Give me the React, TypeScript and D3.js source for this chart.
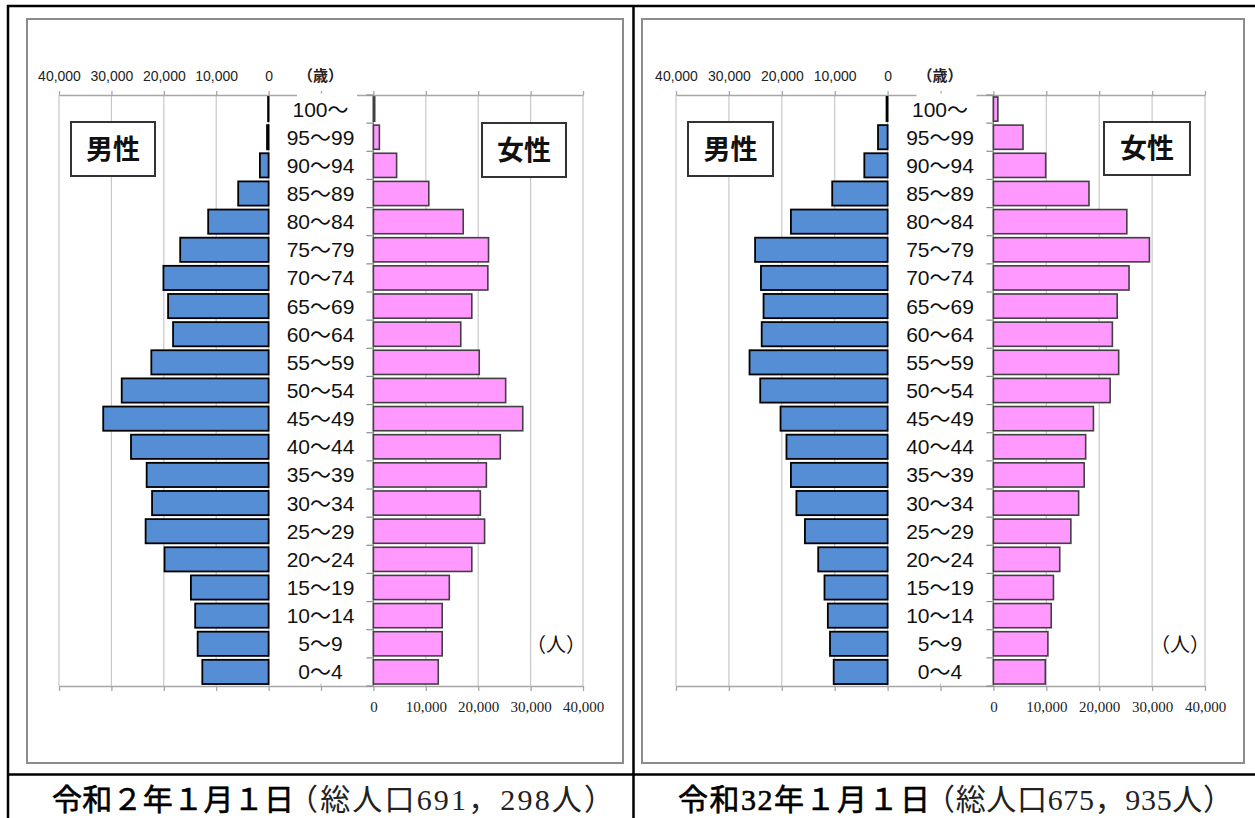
import React, { useEffect, useRef } from "react";
import * as d3 from "d3";

// age groups, top (oldest) to bottom
const ageGroups = [
  "100～", "95～99", "90～94", "85～89", "80～84", "75～79", "70～74",
  "65～69", "60～64", "55～59", "50～54", "45～49", "40～44", "35～39",
  "30～34", "25～29", "20～24", "15～19", "10～14", "5～9", "0～4",
];

// 令和2年 (2020)
const maleR2 = [
  100, 300, 1660, 5800, 11530, 16870, 20070, 19180, 18230, 22380, 28030,
  31560, 26260, 23270, 22240, 23470, 19860, 14830, 14010, 13540, 12650,
];
const femaleR2 = [
  250, 1140, 4430, 10570, 17140, 21970, 21840, 18780, 16670, 20200, 25240,
  28500, 24220, 21560, 20410, 21220, 18780, 14490, 13130, 13130, 12380,
];

// 令和32年 (2050)
const maleR32 = [
  200, 1810, 4400, 10470, 18280, 25050, 23940, 23450, 23800, 26100, 24080,
  20240, 19120, 18280, 17240, 15630, 13120, 11930, 11300, 10890, 10190,
];
const femaleR32 = [
  840, 5600, 9880, 18070, 25220, 29490, 25640, 23400, 22490, 23680, 22070,
  18910, 17440, 17160, 16110, 14640, 12540, 11350, 10930, 10300, 9810,
];

const maleTickLabels = ["40,000", "30,000", "20,000", "10,000", "0"];
const femaleTickLabels = ["0", "10,000", "20,000", "30,000", "40,000"];

const captionR2 = ["令和２年１月１日", "（総人口691，298人）"];
const captionR32 = ["令和32年１月１日", "（総人口675，935人）"];

const W = 1255;
const H = 818;

const panels = [
  {
    male: maleR2,
    female: femaleR2,
    caption: captionR2,
    frame: [27, 19, 623, 763],
    x0: 59,
    x1: 583,
    maleBox: [71, 122, 155, 176],
    femaleBox: [482, 123, 566, 177],
    unitX: 556,
    cap: [52, 242, 288, 326],
  },
  {
    male: maleR32,
    female: femaleR32,
    caption: captionR32,
    frame: [642, 19, 1244, 763],
    x0: 676,
    x1: 1205,
    maleBox: [688, 122, 773, 176],
    femaleBox: [1104, 122, 1190, 175],
    unitX: 1180,
    cap: [678, 252, 925, 308],
  },
];

const sans = "'Liberation Sans', 'Noto Sans CJK JP', sans-serif";
const serif = "'Liberation Serif', 'Noto Sans CJK JP', serif";
const cjk = "'Noto Sans CJK JP', sans-serif";

const App: React.FC = () => {
  const svgRef = useRef<SVGSVGElement | null>(null);

  useEffect(() => {
    if (!svgRef.current) return;
    const svg = d3.select(svgRef.current);
    svg.selectAll("*").remove();

    svg.append("rect").attr("width", W).attr("height", H).attr("fill", "#fff");

    const yTop = 95;
    const yBottom = 686;

    panels.forEach((p) => {
      const g = svg.append("g");

      // chart frame
      g.append("rect")
        .attr("x", p.frame[0])
        .attr("y", p.frame[1])
        .attr("width", p.frame[2] - p.frame[0])
        .attr("height", p.frame[3] - p.frame[1])
        .attr("fill", "#fff")
        .attr("stroke", "#8c8c8c")
        .attr("stroke-width", 2);

      // full width position scale: 0 = left 40,000, 100,000 = right 40,000
      const full = d3.scaleLinear().domain([0, 100000]).range([p.x0, p.x1]);
      const maleX = d3.scaleLinear().domain([40000, 0]).range([full(0), full(40000)]);
      const femaleX = d3.scaleLinear().domain([0, 40000]).range([full(60000), full(100000)]);
      const center = full(50000);
      const tickVals = d3.range(0, 100001, 10000);

      const y = d3
        .scaleBand()
        .domain(ageGroups)
        .range([yTop, yBottom])
        .paddingInner(0.14)
        .paddingOuter(0.07);

      // gridlines
      g.selectAll(".grid")
        .data(tickVals)
        .enter()
        .append("line")
        .attr("x1", (d) => full(d))
        .attr("x2", (d) => full(d))
        .attr("y1", yTop)
        .attr("y2", yBottom)
        .attr("stroke", "#c8c8c8")
        .attr("stroke-width", 1.2);

      // top axis (male)
      const topAxis = d3
        .axisTop(full)
        .tickValues(tickVals)
        .tickSize(4)
        .tickSizeOuter(0)
        .tickPadding(9)
        .tickFormat((_, i) => (i < 5 ? maleTickLabels[i] : ""));
      const ta = g.append("g").attr("transform", `translate(0,${yTop})`).call(topAxis);

      // bottom axis (female)
      const bottomAxis = d3
        .axisBottom(full)
        .tickValues(tickVals)
        .tickSize(5)
        .tickSizeOuter(0)
        .tickPadding(10)
        .tickFormat((_, i) => (i >= 6 ? femaleTickLabels[i - 6] : ""));
      const ba = g.append("g").attr("transform", `translate(0,${yBottom})`).call(bottomAxis);

      [ta, ba].forEach((a) => {
        a.select(".domain").attr("stroke", "#a6a6a6").attr("stroke-width", 1.3);
        a.selectAll(".tick line").attr("stroke", "#a6a6a6").attr("stroke-width", 1.3);
      });
      ta.selectAll("text")
        .attr("fill", "#222")
        .style("font-family", sans)
        .style("font-size", "14px")
        .attr("transform", "scale(1,1.1)");
      ba.selectAll("text")
        .attr("fill", "#222")
        .style("font-family", serif)
        .style("font-size", "15px");

      // white strip behind the age labels
      g.append("rect")
        .attr("x", center - 24)
        .attr("y", yTop - 1.5)
        .attr("width", 60)
        .attr("height", yBottom - yTop - 1)
        .attr("fill", "#fff");

      // female category axis
      g.append("line")
        .attr("x1", femaleX(0))
        .attr("x2", femaleX(0))
        .attr("y1", yTop)
        .attr("y2", yBottom)
        .attr("stroke", "#8c8c8c")
        .attr("stroke-width", 1.2);
      g.selectAll(".ctick")
        .data(d3.range(ageGroups.length + 1))
        .enter()
        .append("line")
        .attr("x1", femaleX(0) - 7)
        .attr("x2", femaleX(0))
        .attr("y1", (i) => yTop + i * y.step())
        .attr("y2", (i) => yTop + i * y.step())
        .attr("stroke", "#8c8c8c")
        .attr("stroke-width", 1.2);

      // male bars
      g.selectAll(".male")
        .data(p.male)
        .enter()
        .append("rect")
        .attr("x", (d) => maleX(d))
        .attr("y", (_, i) => y(ageGroups[i])!)
        .attr("width", (d) => maleX(0) - maleX(d))
        .attr("height", y.bandwidth())
        .attr("fill", "#558ED5")
        .attr("stroke", "#000")
        .attr("stroke-width", 1.8);

      // female bars
      g.selectAll(".female")
        .data(p.female)
        .enter()
        .append("rect")
        .attr("x", femaleX(0))
        .attr("y", (_, i) => y(ageGroups[i])!)
        .attr("width", (d) => femaleX(d) - femaleX(0))
        .attr("height", y.bandwidth())
        .attr("fill", "#FF99FF")
        .attr("stroke", "#404040")
        .attr("stroke-width", 1.6);

      // age labels
      g.selectAll(".age")
        .data(ageGroups)
        .enter()
        .append("text")
        .attr("x", center - 0.5)
        .attr("y", (d) => y(d)! + y.bandwidth() / 2)
        .attr("dy", "0.36em")
        .attr("text-anchor", "middle")
        .style("font-family", sans)
        .style("font-size", "21px")
        .attr("fill", "#111")
        .text((d) => d);

      // (歳)
      g.append("text")
        .attr("x", center - 0.5)
        .attr("y", 81)
        .attr("text-anchor", "middle")
        .style("font-family", cjk)
        .style("font-size", "15px")
        .style("font-weight", "bold")
        .attr("fill", "#222")
        .text("（歳）");

      // (人)
      g.append("text")
        .attr("x", p.unitX)
        .attr("y", 652)
        .attr("text-anchor", "middle")
        .style("font-family", cjk)
        .style("font-size", "20px")
        .attr("fill", "#111")
        .text("（人）");

      // 男性 / 女性 boxes
      const box = (b: number[], label: string) => {
        g.append("rect")
          .attr("x", b[0])
          .attr("y", b[1])
          .attr("width", b[2] - b[0])
          .attr("height", b[3] - b[1])
          .attr("fill", "#fff")
          .attr("stroke", "#333")
          .attr("stroke-width", 2);
        g.append("text")
          .attr("x", (b[0] + b[2]) / 2)
          .attr("y", (b[1] + b[3]) / 2)
          .attr("dy", "0.36em")
          .attr("text-anchor", "middle")
          .style("font-family", cjk)
          .style("font-size", "27px")
          .style("font-weight", "bold")
          .attr("fill", "#111")
          .text(label);
      };
      box(p.maleBox, "男性");
      box(p.femaleBox, "女性");

      // caption under the chart
      g.append("text")
        .attr("x", p.cap[0])
        .attr("y", 810)
        .attr("textLength", p.cap[1])
        .style("font-family", serif)
        .style("font-size", "30px")
        .attr("fill", "#000")
        .attr("stroke", "#000")
        .attr("stroke-width", 0.6)
        .text(p.caption[0]);
      g.append("text")
        .attr("x", p.cap[2])
        .attr("y", 810)
        .attr("textLength", p.cap[3])
        .style("font-family", serif)
        .style("font-size", "30px")
        .attr("fill", "#222")
        .text(p.caption[1]);
    });

    // table borders
    const border = svg.append("g").attr("stroke", "#000").attr("stroke-width", 2.5);
    border.append("line").attr("x1", 7).attr("x2", W).attr("y1", 6).attr("y2", 6);
    border.append("line").attr("x1", 8).attr("x2", 8).attr("y1", 5).attr("y2", H);
    border.append("line").attr("x1", 633.5).attr("x2", 633.5).attr("y1", 5).attr("y2", H);
    border.append("line").attr("x1", 7).attr("x2", W).attr("y1", 774.5).attr("y2", 774.5);
  }, []);

  return (
    <svg
      ref={svgRef}
      width={W}
      height={H}
      style={{ position: "absolute", left: 0, top: 0, display: "block" }}
    />
  );
};

export default App;
